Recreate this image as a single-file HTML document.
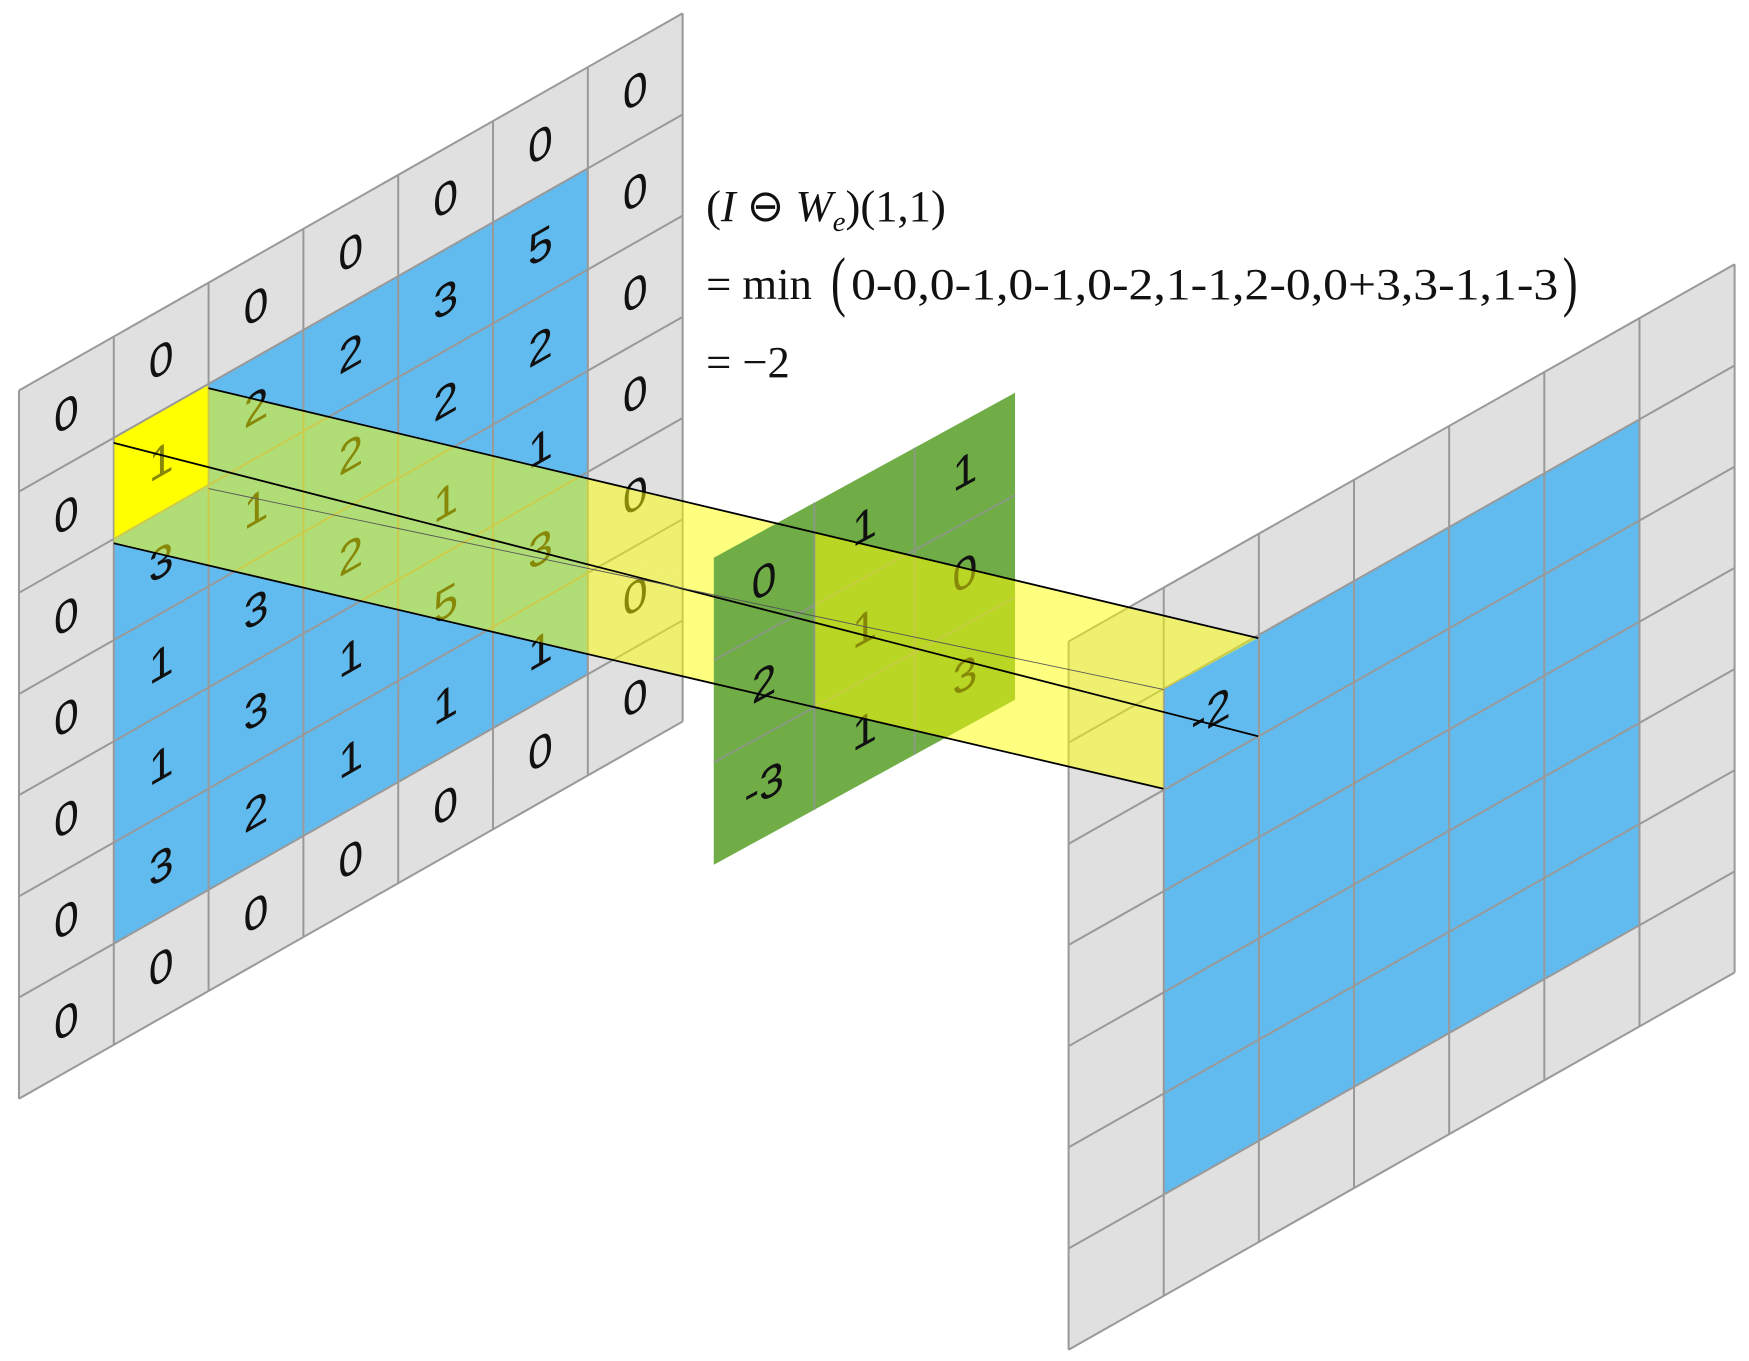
<!DOCTYPE html>
<html><head><meta charset="utf-8"><style>
html,body{margin:0;padding:0;background:#fff;}
svg{display:block;}
.d{font-family:"Liberation Sans",sans-serif;font-size:40px;fill:#111;text-anchor:middle;dominant-baseline:central;}
.m{font-family:"Liberation Serif",serif;font-size:40px;fill:#111;}
</style></head><body>
<svg width="1749" height="1361" viewBox="0 0 1568 1220" preserveAspectRatio="none" xmlns="http://www.w3.org/2000/svg">
<g transform="matrix(85,-48.3,0,90.7,17,350)">
<rect x="0" y="0" width="7" height="7" fill="#e0e0e0"/>
<rect x="1" y="1" width="5" height="5" fill="#62bbee"/>
<rect x="1" y="1" width="1" height="1" fill="#ffff00"/>
<path vector-effect="non-scaling-stroke" stroke="#999" stroke-width="2" fill="none" d="M0 0V7M1 0V7M2 0V7M3 0V7M4 0V7M5 0V7M6 0V7M7 0V7M0 0H7M0 1H7M0 2H7M0 3H7M0 4H7M0 5H7M0 6H7M0 7H7"/>
</g>
<g transform="matrix(85.3,-48.3,0,90.7,958,575)">
<rect x="0" y="0" width="7" height="7" fill="#e0e0e0"/>
<rect x="1" y="1" width="5" height="5" fill="#62bbee"/>
<path vector-effect="non-scaling-stroke" stroke="#999" stroke-width="2" fill="none" d="M0 0V7M1 0V7M2 0V7M3 0V7M4 0V7M5 0V7M6 0V7M7 0V7M0 0H7M0 1H7M0 2H7M0 3H7M0 4H7M0 5H7M0 6H7M0 7H7"/>
</g>
<g transform="matrix(90,-49.3,0,91.7,640,500)">
<rect x="0" y="0" width="3" height="3" fill="#70ad47"/>
<path vector-effect="non-scaling-stroke" stroke="#8a9a80" stroke-width="2" fill="none" d="M1 0V3M2 0V3M0 1H3M0 2H3"/>
</g>
<g class="d">
<text transform="matrix(1,-0.568,0,1,59.5,371.2)">0</text>
<text transform="matrix(1,-0.568,0,1,59.5,461.9)">0</text>
<text transform="matrix(1,-0.568,0,1,59.5,552.6)">0</text>
<text transform="matrix(1,-0.568,0,1,59.5,643.3)">0</text>
<text transform="matrix(1,-0.568,0,1,59.5,734)">0</text>
<text transform="matrix(1,-0.568,0,1,59.5,824.7)">0</text>
<text transform="matrix(1,-0.568,0,1,59.5,915.4)">0</text>
<text transform="matrix(1,-0.568,0,1,144.5,322.9)">0</text>
<text transform="matrix(1,-0.568,0,1,144.5,413.6)">1</text>
<text transform="matrix(1,-0.568,0,1,144.5,504.3)">3</text>
<text transform="matrix(1,-0.568,0,1,144.5,595)">1</text>
<text transform="matrix(1,-0.568,0,1,144.5,685.7)">1</text>
<text transform="matrix(1,-0.568,0,1,144.5,776.4)">3</text>
<text transform="matrix(1,-0.568,0,1,144.5,867.1)">0</text>
<text transform="matrix(1,-0.568,0,1,229.5,274.6)">0</text>
<text transform="matrix(1,-0.568,0,1,229.5,365.3)">2</text>
<text transform="matrix(1,-0.568,0,1,229.5,456)">1</text>
<text transform="matrix(1,-0.568,0,1,229.5,546.7)">3</text>
<text transform="matrix(1,-0.568,0,1,229.5,637.4)">3</text>
<text transform="matrix(1,-0.568,0,1,229.5,728.1)">2</text>
<text transform="matrix(1,-0.568,0,1,229.5,818.8)">0</text>
<text transform="matrix(1,-0.568,0,1,314.5,226.3)">0</text>
<text transform="matrix(1,-0.568,0,1,314.5,317)">2</text>
<text transform="matrix(1,-0.568,0,1,314.5,407.7)">2</text>
<text transform="matrix(1,-0.568,0,1,314.5,498.4)">2</text>
<text transform="matrix(1,-0.568,0,1,314.5,589.1)">1</text>
<text transform="matrix(1,-0.568,0,1,314.5,679.8)">1</text>
<text transform="matrix(1,-0.568,0,1,314.5,770.5)">0</text>
<text transform="matrix(1,-0.568,0,1,399.5,178)">0</text>
<text transform="matrix(1,-0.568,0,1,399.5,268.7)">3</text>
<text transform="matrix(1,-0.568,0,1,399.5,359.4)">2</text>
<text transform="matrix(1,-0.568,0,1,399.5,450.1)">1</text>
<text transform="matrix(1,-0.568,0,1,399.5,540.8)">5</text>
<text transform="matrix(1,-0.568,0,1,399.5,631.5)">1</text>
<text transform="matrix(1,-0.568,0,1,399.5,722.2)">0</text>
<text transform="matrix(1,-0.568,0,1,484.5,129.7)">0</text>
<text transform="matrix(1,-0.568,0,1,484.5,220.4)">5</text>
<text transform="matrix(1,-0.568,0,1,484.5,311.1)">2</text>
<text transform="matrix(1,-0.568,0,1,484.5,401.8)">1</text>
<text transform="matrix(1,-0.568,0,1,484.5,492.5)">3</text>
<text transform="matrix(1,-0.568,0,1,484.5,583.2)">1</text>
<text transform="matrix(1,-0.568,0,1,484.5,673.9)">0</text>
<text transform="matrix(1,-0.568,0,1,569.5,81.4)">0</text>
<text transform="matrix(1,-0.568,0,1,569.5,172.1)">0</text>
<text transform="matrix(1,-0.568,0,1,569.5,262.8)">0</text>
<text transform="matrix(1,-0.568,0,1,569.5,353.5)">0</text>
<text transform="matrix(1,-0.568,0,1,569.5,444.2)">0</text>
<text transform="matrix(1,-0.568,0,1,569.5,534.9)">0</text>
<text transform="matrix(1,-0.568,0,1,569.5,625.6)">0</text>
<text transform="matrix(1,-0.548,0,1,865,422.6)">1</text>
<text transform="matrix(1,-0.548,0,1,865,514.3)">0</text>
<text transform="matrix(1,-0.548,0,1,865,606)">3</text>
<text transform="matrix(1,-0.548,0,1,775,563.6)">1</text>
<text transform="matrix(1,-0.548,0,1,775,655.3)">1</text>
<text transform="matrix(1,-0.568,0,1,1085.5,638.6)">-2</text>
</g>
<polygon points="102,397 187,348 1128,572 1043,618" fill="rgba(255,255,0,0.5)"/>
<polygon points="102,397 1043,618 1043,707 102,487" fill="rgba(255,255,0,0.5)"/>
<g transform="matrix(90,-49.3,0,91.7,640,500)">
<rect x="0" y="0" width="1" height="3" fill="#70ad47"/>
<path vector-effect="non-scaling-stroke" stroke="#8a9a80" stroke-width="2" fill="none" d="M0 1H1M0 2H1M1 0V3"/>
</g>
<g class="d">
<text transform="matrix(1,-0.548,0,1,685,521.2)">0</text>
<text transform="matrix(1,-0.548,0,1,685,612.9)">2</text>
<text transform="matrix(1,-0.548,0,1,685,704.6)">-3</text>
<text transform="matrix(1,-0.548,0,1,775,471.9)">1</text>
</g>
<g stroke="#000" fill="none">
<line x1="187" y1="348" x2="1128" y2="572" stroke-width="1.6"/>
<line x1="102" y1="397" x2="1128" y2="660" stroke-width="1.6"/>
<line x1="102" y1="487" x2="1043" y2="707" stroke-width="1.6"/>
<line x1="187" y1="438" x2="1043" y2="618" stroke-width="0.8" stroke="#555"/>
</g>
<text class="m" x="633" y="198">(<tspan font-style="italic">I</tspan> ⊖ <tspan font-style="italic">W</tspan><tspan font-style="italic" font-size="26" dy="9">e</tspan><tspan dy="-9">)(1,1)</tspan></text>
<text class="m" x="633" y="268">= min</text>
<text class="m" transform="translate(745,272) scale(1,1.5)">(</text>
<text class="m" x="763" y="268" textLength="634" lengthAdjust="spacingAndGlyphs">0-0,0-1,0-1,0-2,1-1,2-0,0+3,3-1,1-3</text>
<text class="m" transform="translate(1401,272) scale(1,1.5)">)</text>
<text class="m" x="633" y="338">= −2</text>
</svg>
</body></html>
